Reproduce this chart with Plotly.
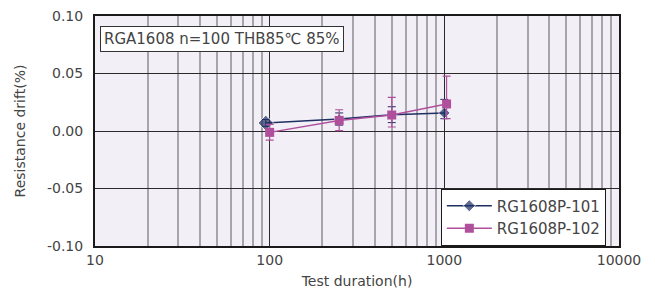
import plotly.graph_objects as go

hours_101 = [95, 250, 500, 1000]
drift_101 = [0.007, 0.0104, 0.0142, 0.0157]
err_101_plus = [0.003, 0.0053, 0.0069, 0.0118]
err_101_minus = [0.003, 0.0053, 0.0069, 0.0050]

hours_102 = [100, 250, 500, 1030]
drift_102 = [-0.0012, 0.0092, 0.0139, 0.0235]
err_102_plus = [0.007, 0.0093, 0.0153, 0.0243]
err_102_minus = [0.0068, 0.0089, 0.0104, 0.0128]

x_ticks = [10, 100, 1000, 10000]
y_ticks = [-0.10, -0.05, 0.00, 0.05, 0.10]

navy = "#1F2F63"
mag = "#B0509C"
font = "DejaVu Sans"
tc = "#444444"

fig = go.Figure()
fig.add_trace(go.Scatter(
    x=hours_101, y=drift_101, name="RG1608P-101", mode="lines+markers",
    line=dict(color=navy, width=1.5),
    marker=dict(symbol="diamond", size=[12, 8, 8, 9], color=navy),
    error_y=dict(type="data", symmetric=False, array=err_101_plus, arrayminus=err_101_minus,
                 color=navy, thickness=1, width=4),
))
fig.add_trace(go.Scatter(
    x=hours_102, y=drift_102, name="RG1608P-102", mode="lines+markers",
    line=dict(color=mag, width=1.5),
    marker=dict(symbol="square", size=9, color=mag),
    error_y=dict(type="data", symmetric=False, array=err_102_plus, arrayminus=err_102_minus,
                 color=mag, thickness=1.2, width=4),
))

fig.add_annotation(
    xref="paper", yref="paper", x=0.010, y=0.955, xanchor="left", yanchor="top",
    text="RGA1608 n=100 THB85℃ 85%", showarrow=False,
    font=dict(family=font, size=15, color=tc),
    bgcolor="white", bordercolor="#333333", borderwidth=1, borderpad=3,
)

fig.update_xaxes(
    type="log", range=[1, 4], tickvals=x_ticks, ticktext=[str(v) for v in x_ticks],
    showgrid=True, gridcolor="#2a2a2a", gridwidth=1.2,
    minor=dict(showgrid=True, gridcolor="#A8A4AC", gridwidth=1.5,
               tickvals=[v * d for d in [10, 100, 1000] for v in range(2, 10)]),
    showline=True, linecolor="#1a1a1a", linewidth=2, mirror=True,
    ticks="", tickfont=dict(family=font, size=14, color=tc), ticklabeloverflow="allow",
    title=dict(text="Test duration(h)", font=dict(family=font, size=14, color=tc), standoff=9),
    zeroline=False, automargin=False,
)
fig.update_yaxes(
    range=[-0.10, 0.10], tickvals=y_ticks, ticktext=[f"{v:.2f}" for v in y_ticks],
    showgrid=True, gridcolor="#2a2a2a", gridwidth=1.2,
    showline=True, linecolor="#1a1a1a", linewidth=2, mirror=True,
    ticks="", tickfont=dict(family=font, size=14, color=tc), ticklabelstandoff=7,
    ticklabeloverflow="allow",
    title=dict(text="Resistance drift(%)", font=dict(family=font, size=14, color=tc), standoff=18),
    zeroline=False, automargin=False,
)

fig.update_layout(
    width=647, height=283,
    margin=dict(l=87, r=36, t=8, b=45),
    plot_bgcolor="#F2F0F6", paper_bgcolor="white",
    showlegend=True,
    legend=dict(x=0.660, y=0.250, xanchor="left", yanchor="top",
                bgcolor="white", bordercolor="#1a1a1a", borderwidth=1,
                font=dict(family=font, size=15, color=tc),
                tracegroupgap=0, itemwidth=45),
)

fig.write_html("out.html")
